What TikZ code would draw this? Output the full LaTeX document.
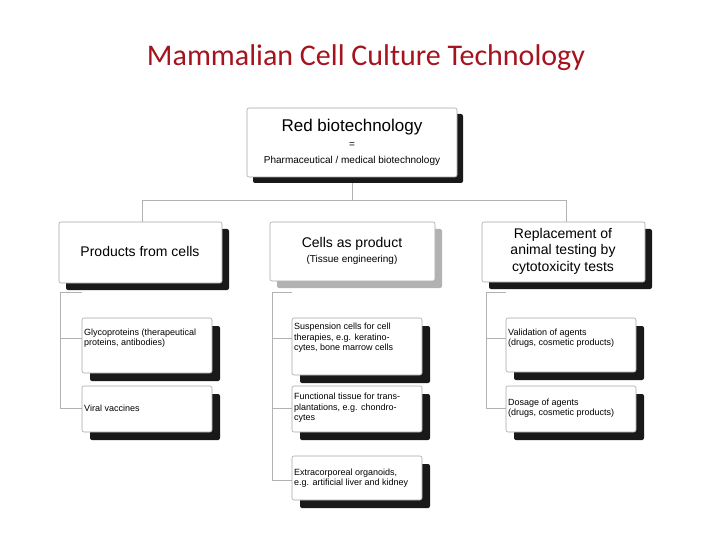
\documentclass[tikz,border=0pt]{standalone}
\usepackage{fontspec}
\setmainfont{Liberation Sans}
\newfontfamily\titlefont{Carlito}
\definecolor{titlered}{RGB}{165,20,30}
\begin{document}
\begin{tikzpicture}[x=1pt,y=-1pt,
  box/.style={draw=gray!70,fill=white,rounded corners=2pt,line width=0.6pt},
  shad/.style={fill=black!90,rounded corners=2pt},
  gshad/.style={fill=gray!60,rounded corners=2pt},
  conn/.style={draw=gray!60,line width=0.8pt},
  leaf/.style={font=\fontsize{9}{10.5}\selectfont,align=left,anchor=west,inner sep=0pt}]
\useasboundingbox (0,0) rectangle (720,540);
\node[font=\titlefont\fontsize{30}{34}\selectfont,text=titlered] (title) at (366,58) {Mammalian Cell Culture Technology};
% connectors
\coordinate (tb) at (352,177);
\coordinate (hj) at (352,200);
\coordinate (hl) at (142,200);
\coordinate (hr) at (566,200);
\draw[conn] (tb) -- (hj);
\draw[conn] (hl) -- (hr);
\draw[conn] (hl) -- (142,222);
\draw[conn] (hr) -- (566,222);
% top box
\fill[shad] (253,114) rectangle (463,183);
\draw[box] (247,108) rectangle (457,177);
\node[font=\fontsize{17}{19}\selectfont] (top) at (352,127) {Red biotechnology};
\node[font=\fontsize{10}{11}\selectfont] (eq) at (352,145) {=};
\node[font=\fontsize{10}{11}\selectfont] (pm) at (352,161) {Pharmaceutical / medical biotechnology};
% level 2
\fill[shad] (66,229) rectangle (229,290);
\draw[box] (59,222) rectangle (222,283);
\node[font=\fontsize{14}{16}\selectfont] (l) at (140,251) {Products from cells};
\fill[gshad] (277,229) rectangle (442,288);
\draw[box] (270,222) rectangle (435,281);
\node[font=\fontsize{14}{16}\selectfont] (m) at (352,244) {Cells as product};
\node[font=\fontsize{10}{12}\selectfont] (m2) at (352,260) {(Tissue engineering)};
\fill[shad] (489,229) rectangle (652,289);
\draw[box] (482,222) rectangle (645,282);
\node[align=center,font=\fontsize{14}{16.5}\selectfont] (r) at (563,251) {Replacement of\\animal testing by\\cytotoxicity tests};
% trunks
\draw[conn] (82,292) -- (60,292) -- (60,408) -- (82,408);
\draw[conn] (60,338) -- (82,338);
\draw[conn] (292,292) -- (272,292) -- (272,480) -- (292,480);
\draw[conn] (272,338) -- (292,338);
\draw[conn] (272,408) -- (292,408);
\draw[conn] (506,292) -- (486,292) -- (486,408) -- (506,408);
\draw[conn] (486,338) -- (506,338);
% leaves
\foreach \x/\ya/\yb in {82/318/373,82/386/432,292/318/375,292/386/432,292/456/500,506/318/372,506/386/432}{
  \fill[shad] (\x+8,\ya+8) rectangle (\x+138,\yb+8);
  \draw[box] (\x,\ya) rectangle (\x+130,\yb);
}
\node[leaf] (a1) at (84,338) {Glycoproteins (therapeutical\\proteins, antibodies)};
\node[leaf] (a2) at (84,408) {Viral vaccines};
\node[leaf] (b1) at (294,338) {Suspension cells for cell\\therapies, e.g. keratino-\\cytes, bone marrow cells};
\node[leaf] (b2) at (294,408) {Functional tissue for trans-\\plantations, e.g. chondro-\\cytes};
\node[leaf] (b3) at (294,478) {Extracorporeal organoids,\\e.g. artificial liver and kidney};
\node[leaf] (c1) at (508,338) {Validation of agents\\(drugs, cosmetic products)};
\node[leaf] (c2) at (508,408) {Dosage of agents\\(drugs, cosmetic products)};
\end{tikzpicture}
\end{document}
